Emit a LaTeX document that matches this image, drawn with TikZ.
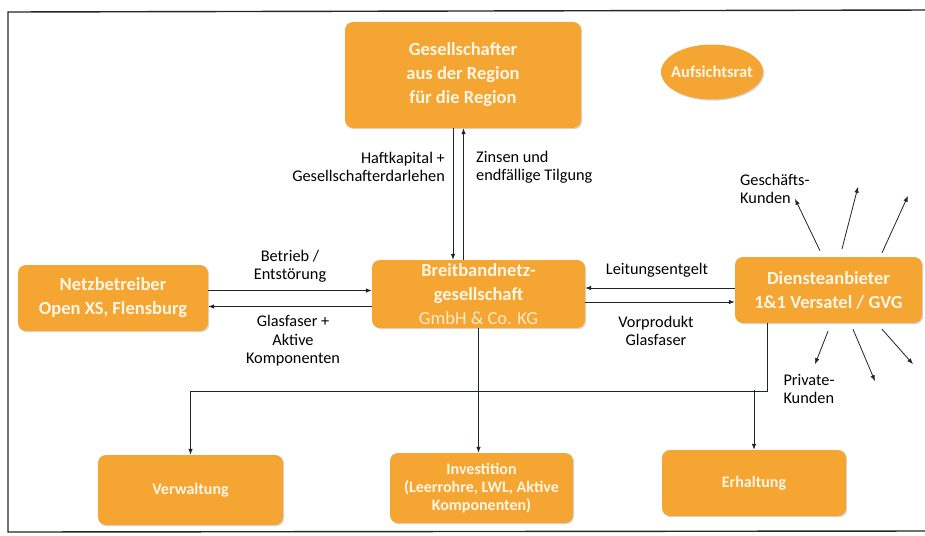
\documentclass[tikz,border=0pt]{standalone}
\usepackage{fontspec}
\setmainfont{Carlito}
\usetikzlibrary{arrows.meta,shapes.geometric,shadows}
\definecolor{boxorange}{HTML}{F5A532}
\definecolor{boxtext}{HTML}{FFF6E6}
\definecolor{linecol}{HTML}{1E2430}
\tikzset{
  orangebox/.style={draw=none, fill=boxorange, rounded corners=8pt, align=center,
    text=boxtext, font=\bfseries\fontsize{18.5}{24}\selectfont, inner sep=2pt,
    drop shadow={shadow xshift=1.2pt, shadow yshift=-1.2pt, opacity=.3, fill=gray}},
  smallbox/.style={orangebox, font=\bfseries\fontsize{16}{18}\selectfont},
  lbl/.style={font=\fontsize{16.3}{18.5}\selectfont, text=black, inner sep=0pt},
  arr/.style={draw=linecol, line width=0.8pt, -{Latex[length=6pt,width=4.5pt]}},
  plain/.style={draw=linecol, line width=0.8pt}
}
\begin{document}
\begin{tikzpicture}[x=1pt,y=-1pt]
\useasboundingbox (0,0) rectangle (925,535);
\fill[white] (0,0) rectangle (925,535);
% frame
\draw[line width=1.4pt, black!85] (935,10) -- (8,12) -- (8,532) -- (935,531);

% nodes
\node[orangebox, minimum width=236pt, minimum height=106pt] (gesell) at (463,75)
  {Gesellschafter\\aus der Region\\für die Region};
\node[ellipse, fill=boxorange, text=boxtext, minimum width=102pt, minimum height=55pt,
  inner xsep=-12pt, inner ysep=0pt, font=\bfseries\fontsize{16.5}{20}\selectfont,
  drop shadow={shadow xshift=1.2pt, shadow yshift=-1.2pt, opacity=.3, fill=gray}] (auf) at (712,72) {Aufsichtsrat};
\node[orangebox, minimum width=213pt, minimum height=68pt] (breit) at (478.5,294)
  {Breitbandnetz-\\gesellschaft\\{\mdseries\color{boxtext!85!boxorange}GmbH \& Co. KG}};
\node[orangebox, minimum width=190pt, minimum height=66pt] (netz) at (113,298)
  {Netzbetreiber\\Open XS, Flensburg};
\node[orangebox, minimum width=187pt, minimum height=66pt] (dienst) at (828.5,290)
  {Diensteanbieter\\1\&1 Versatel / GVG};
\node[smallbox, minimum width=185pt, minimum height=70pt] (verw) at (190.5,490) {Verwaltung};
\node[smallbox, minimum width=183pt, minimum height=70pt] (inv) at (481.5,488)
  {Investition\\(Leerrohre, LWL, Aktive\\Komponenten)};
\node[smallbox, minimum width=184pt, minimum height=66pt] (erh) at (754,483) {Erhaltung};

% labels
\node[lbl, anchor=east, align=right] (haft) at (445,167) {Haftkapital +\\Gesellschafterdarlehen};
\node[lbl, anchor=west, align=left] (zins) at (476,167) {Zinsen und\\endfällige Tilgung};
\node[lbl, align=center] (betr) at (290,266) {Betrieb /\\Entstörung};
\node[lbl, align=center] (glas) at (293,341) {Glasfaser +\\Aktive\\Komponenten};
\node[lbl, align=center] (leit) at (657,270) {Leitungsentgelt};
\node[lbl, align=center] (vorp) at (656,331) {Vorprodukt\\Glasfaser};
\node[lbl, anchor=west, align=left] (gesch) at (740,189) {Geschäfts-\\Kunden};
\node[lbl, align=left] (priv) at (809,389) {Private-\\Kunden};

% connectors
\draw[arr] ([xshift=-10pt]gesell.south) -- ([xshift=-10pt]gesell.south |- breit.north);
\draw[arr] ([xshift=0.5pt]gesell.south |- breit.north) -- ([xshift=0.5pt]gesell.south);
\draw[arr] ([yshift=7.5pt]netz.east) -- ([yshift=7.5pt]netz.east -| breit.west);
\draw[arr] ([yshift=-8.5pt]netz.east -| breit.west) -- ([yshift=-8.5pt]netz.east);
\draw[arr] ([yshift=2pt]dienst.west) -- ([yshift=2pt]dienst.west -| breit.east);
\draw[arr] ([yshift=-12pt]dienst.west -| breit.east) -- ([yshift=-12pt]dienst.west);
\draw[arr] (breit.south) -- (breit.south |- inv.north);
\draw[arr] ([xshift=-61.5pt]dienst.south) -- ++(0,68) -| (verw.north);
\draw[arr] ([yshift=60pt]erh.north) -- (erh.north);

% customers
\draw[arr] ([xshift=-8.5pt,yshift=6pt]dienst.north) -- ++(-25,-52);
\draw[arr] ([xshift=13.5pt,yshift=8pt]dienst.north) -- ++(16,-62);
\draw[arr] ([xshift=53.5pt,yshift=4pt]dienst.north) -- ++(26,-57);
\draw[arr] ([xshift=-0.5pt,yshift=-8pt]dienst.south) -- ++(-13,33);
\draw[arr] ([xshift=24.5pt,yshift=-6pt]dienst.south) -- ++(22,52);
\draw[arr] ([xshift=53.5pt,yshift=-6pt]dienst.south) -- ++(31,35);
\end{tikzpicture}
\end{document}
